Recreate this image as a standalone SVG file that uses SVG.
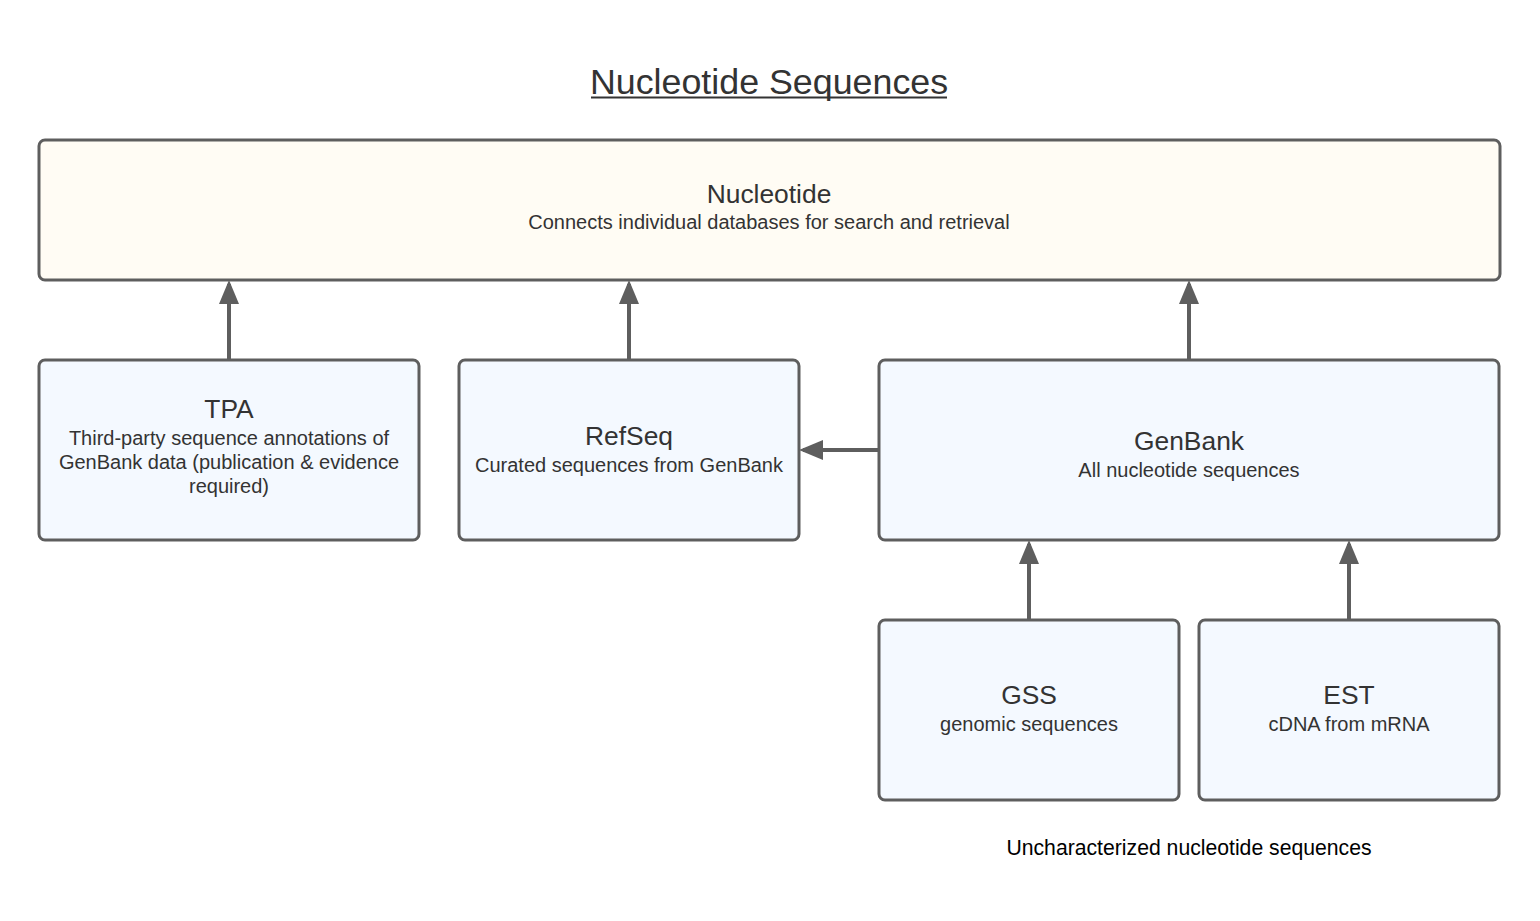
<svg xmlns="http://www.w3.org/2000/svg" width="1540" height="921" viewBox="0 0 1540 921">
<style>
.box{stroke:#5e5e5e;stroke-width:3;}
.top{fill:#fffcf4;}
.db{fill:#f4f9ff;}
.t{font-family:"Liberation Sans",Arial,sans-serif;fill:#333333;text-anchor:middle;}
.h{font-size:26.4px;}
.s{font-size:20px;}
.con{stroke:#5e5e5e;stroke-width:4;fill:none;marker-end:url(#ah);}
</style>
<defs>
<marker id="ah" markerWidth="6" markerHeight="6" refX="5" refY="3" orient="auto" markerUnits="strokeWidth" viewBox="0 0 6 6">
<path d="M0,0.5 L6,3 L0,5.5 z" fill="#5e5e5e"/>
</marker>
</defs>
<rect width="1540" height="921" fill="#ffffff"/>
<g id="title">
<text class="t" x="769" y="94" style="font-size:35.8px">Nucleotide Sequences</text>
<line x1="591" y1="97.5" x2="947" y2="97.5" stroke="#333333" stroke-width="2"/>
</g>
<g id="connectors">
<line class="con" x1="229" y1="359" x2="229" y2="284"/>
<line class="con" x1="629" y1="359" x2="629" y2="284"/>
<line class="con" x1="1189" y1="359" x2="1189" y2="284"/>
<line class="con" x1="878" y1="450" x2="803" y2="450"/>
<line class="con" x1="1029" y1="619" x2="1029" y2="544"/>
<line class="con" x1="1349" y1="619" x2="1349" y2="544"/>
</g>
<g id="nucleotide">
<rect class="box top" x="39" y="140" width="1461" height="140" rx="6"/>
<text class="t h" x="769" y="203">Nucleotide</text>
<text class="t s" x="769" y="229">Connects individual databases for search and retrieval</text>
</g>
<g id="tpa">
<rect class="box db" x="39" y="360" width="380" height="180" rx="6"/>
<text class="t h" x="229" y="418">TPA</text>
<text class="t s" x="229" y="445">Third-party sequence annotations of</text>
<text class="t s" x="229" y="469">GenBank data (publication &amp; evidence</text>
<text class="t s" x="229" y="493">required)</text>
</g>
<g id="refseq">
<rect class="box db" x="459" y="360" width="340" height="180" rx="6"/>
<text class="t h" x="629" y="445">RefSeq</text>
<text class="t s" x="629" y="472">Curated sequences from GenBank</text>
</g>
<g id="genbank">
<rect class="box db" x="879" y="360" width="620" height="180" rx="6"/>
<text class="t h" x="1189" y="450">GenBank</text>
<text class="t s" x="1189" y="477">All nucleotide sequences</text>
</g>
<g id="gss">
<rect class="box db" x="879" y="620" width="300" height="180" rx="6"/>
<text class="t h" x="1029" y="704">GSS</text>
<text class="t s" x="1029" y="731">genomic sequences</text>
</g>
<g id="est">
<rect class="box db" x="1199" y="620" width="300" height="180" rx="6"/>
<text class="t h" x="1349" y="704">EST</text>
<text class="t s" x="1349" y="731">cDNA from mRNA</text>
</g>
<g id="note">
<text class="t" x="1189" y="855" style="fill:#000000;font-size:21.2px">Uncharacterized nucleotide sequences</text>
</g>
</svg>
